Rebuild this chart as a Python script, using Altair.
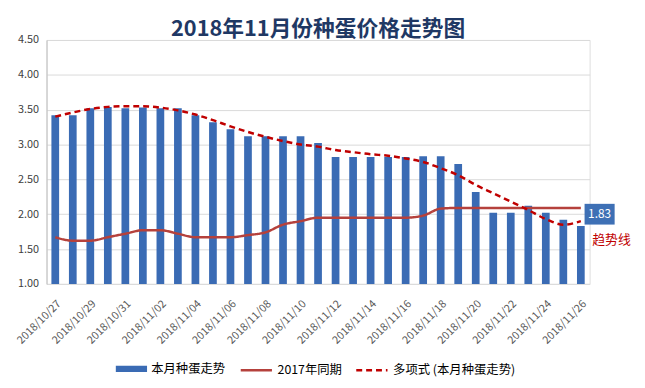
import altair as alt
import pandas as pd

dates = [
    "2018/10/27", "2018/10/28", "2018/10/29", "2018/10/30", "2018/10/31",
    "2018/11/01", "2018/11/02", "2018/11/03", "2018/11/04", "2018/11/05",
    "2018/11/06", "2018/11/07", "2018/11/08", "2018/11/09", "2018/11/10",
    "2018/11/11", "2018/11/12", "2018/11/13", "2018/11/14", "2018/11/15",
    "2018/11/16", "2018/11/17", "2018/11/18", "2018/11/19", "2018/11/20",
    "2018/11/21", "2018/11/22", "2018/11/23", "2018/11/24", "2018/11/25",
    "2018/11/26",
]
tick_labels = dates[::2]

this_month = [3.42, 3.42, 3.52, 3.54, 3.52, 3.53, 3.52, 3.52, 3.42, 3.32,
              3.22, 3.12, 3.12, 3.12, 3.12, 3.02, 2.82, 2.82, 2.82, 2.82,
              2.82, 2.83, 2.83, 2.72, 2.32, 2.02, 2.02, 2.12, 2.02, 1.92,
              1.83]
last_year = [1.67, 1.62, 1.62, 1.67, 1.72, 1.77, 1.77, 1.72, 1.67, 1.67,
             1.67, 1.70, 1.74, 1.85, 1.90, 1.95, 1.95, 1.95, 1.95, 1.95,
             1.95, 1.98, 2.08, 2.09, 2.09, 2.09, 2.09, 2.09, 2.09, 2.09,
             2.09]
trend = [3.40, 3.46, 3.51, 3.54, 3.55, 3.55, 3.53, 3.49, 3.43, 3.35,
         3.26, 3.18, 3.11, 3.05, 3.00, 2.97, 2.92, 2.89, 2.86, 2.84,
         2.80, 2.75, 2.66, 2.56, 2.42, 2.30, 2.18, 2.06, 1.93, 1.85,
         1.90]
y_ticks = [1.0, 1.5, 2.0, 2.5, 3.0, 3.5, 4.0, 4.5]

bar_name = "本月种蛋走势"
line_names = ["2017年同期", "多项式 (本月种蛋走势)"]
BAR_COLOR = "#3A6BB4"
line_colors = ["#B5413C", "#C00000"]
line_dashes = [[1, 0], [6, 4]]

df_bar = pd.DataFrame({"date": dates, "value": this_month, "series": bar_name})
df_lines = pd.concat([
    pd.DataFrame({"date": dates, "value": last_year, "series": line_names[0]}),
    pd.DataFrame({"date": dates, "value": trend, "series": line_names[1]}),
])
df_ann = pd.DataFrame({"date": [dates[-1]], "value": [this_month[-1]],
                       "label": [f"{this_month[-1]:.2f}"], "note": ["趋势线"]})

FONT = "Noto Sans CJK SC"

x_axis = alt.Axis(
    title=None, values=tick_labels, labelAngle=-45, labelFontSize=11,
    labelColor="#595959", labelFont=FONT, ticks=False, domain=False,
    labelPadding=14, labelOverlap=False,
)
x_scale = alt.Scale(paddingInner=0.56, paddingOuter=0.28)
x_enc = alt.X("date:O", sort=dates, scale=x_scale, axis=x_axis)

y_scale = alt.Scale(domain=[y_ticks[0], y_ticks[-1]], nice=False, zero=False)
y_axis = alt.Axis(
    title=None, values=y_ticks, tickCount=len(y_ticks), format=".2f",
    labelFontSize=11, labelColor="#404040", labelFont=FONT, ticks=False,
    domain=True, domainColor="#BFBFBF", gridColor="#D9D9D9", labelPadding=8,
    labelOverlap=False,
)
y_enc = alt.Y("value:Q", scale=y_scale, axis=y_axis)

bars = alt.Chart(df_bar).mark_bar(opacity=1, clip=True).encode(
    x=x_enc,
    y=y_enc,
    fill=alt.Fill(
        "series:N",
        scale=alt.Scale(domain=[bar_name], range=[BAR_COLOR]),
        legend=alt.Legend(
            orient="none", legendX=70, legendY=317, title=None,
            labelFont=FONT, labelFontSize=12.5, labelColor="#000000",
            symbolType="M-1,-0.2H1V0.2H-1Z", symbolSize=1000,
            symbolStrokeWidth=0, labelOffset=4, labelLimit=300,
        ),
    ),
)

line_legend = alt.Legend(
    orient="none", legendX=195, legendY=317, direction="horizontal", title=None,
    labelFont=FONT, labelFontSize=12.5, labelColor="#000000",
    symbolType="stroke", symbolSize=1000, symbolStrokeWidth=2.5,
    columnPadding=8, labelOffset=4, labelLimit=400,
)
lines = alt.Chart(df_lines).mark_line(strokeWidth=2.5, interpolate="monotone").encode(
    x=x_enc,
    y=y_enc,
    stroke=alt.Stroke("series:N", scale=alt.Scale(domain=line_names, range=line_colors),
                      legend=line_legend),
    strokeDash=alt.StrokeDash("series:N", scale=alt.Scale(domain=line_names, range=line_dashes),
                              legend=line_legend),
)

box = alt.Chart(df_ann).mark_point(
    shape="M-1.45,-1H1.45V1H-1.45Z", filled=True, size=441, opacity=1,
    color="#3E70B5", xOffset=19, yOffset=-12,
).encode(x=x_enc, y=y_enc)
box_text = alt.Chart(df_ann).mark_text(
    color="white", fontSize=12, font=FONT, xOffset=19, yOffset=-12,
).encode(x=x_enc, y=y_enc, text="label:N")
note_text = alt.Chart(df_ann).mark_text(
    color="#C00000", fontSize=13, font=FONT, xOffset=31, yOffset=14,
).encode(x=x_enc, y=y_enc, text="note:N")

chart = alt.layer(bars, lines, box, box_text, note_text).properties(
    width=550, height=247,
    title=alt.Title("2018年11月份种蛋价格走势图", font=FONT, fontSize=22,
                    fontWeight="bold", color="#1F3864", anchor="middle", offset=-7),
    autosize=alt.AutoSizeParams(type="none"),
    padding={"left": 39, "top": 30, "right": 48, "bottom": 100},
).configure_view(stroke=None).configure(background="white")

chart.save("out.html", embed_options={"renderer": "svg", "actions": False})
